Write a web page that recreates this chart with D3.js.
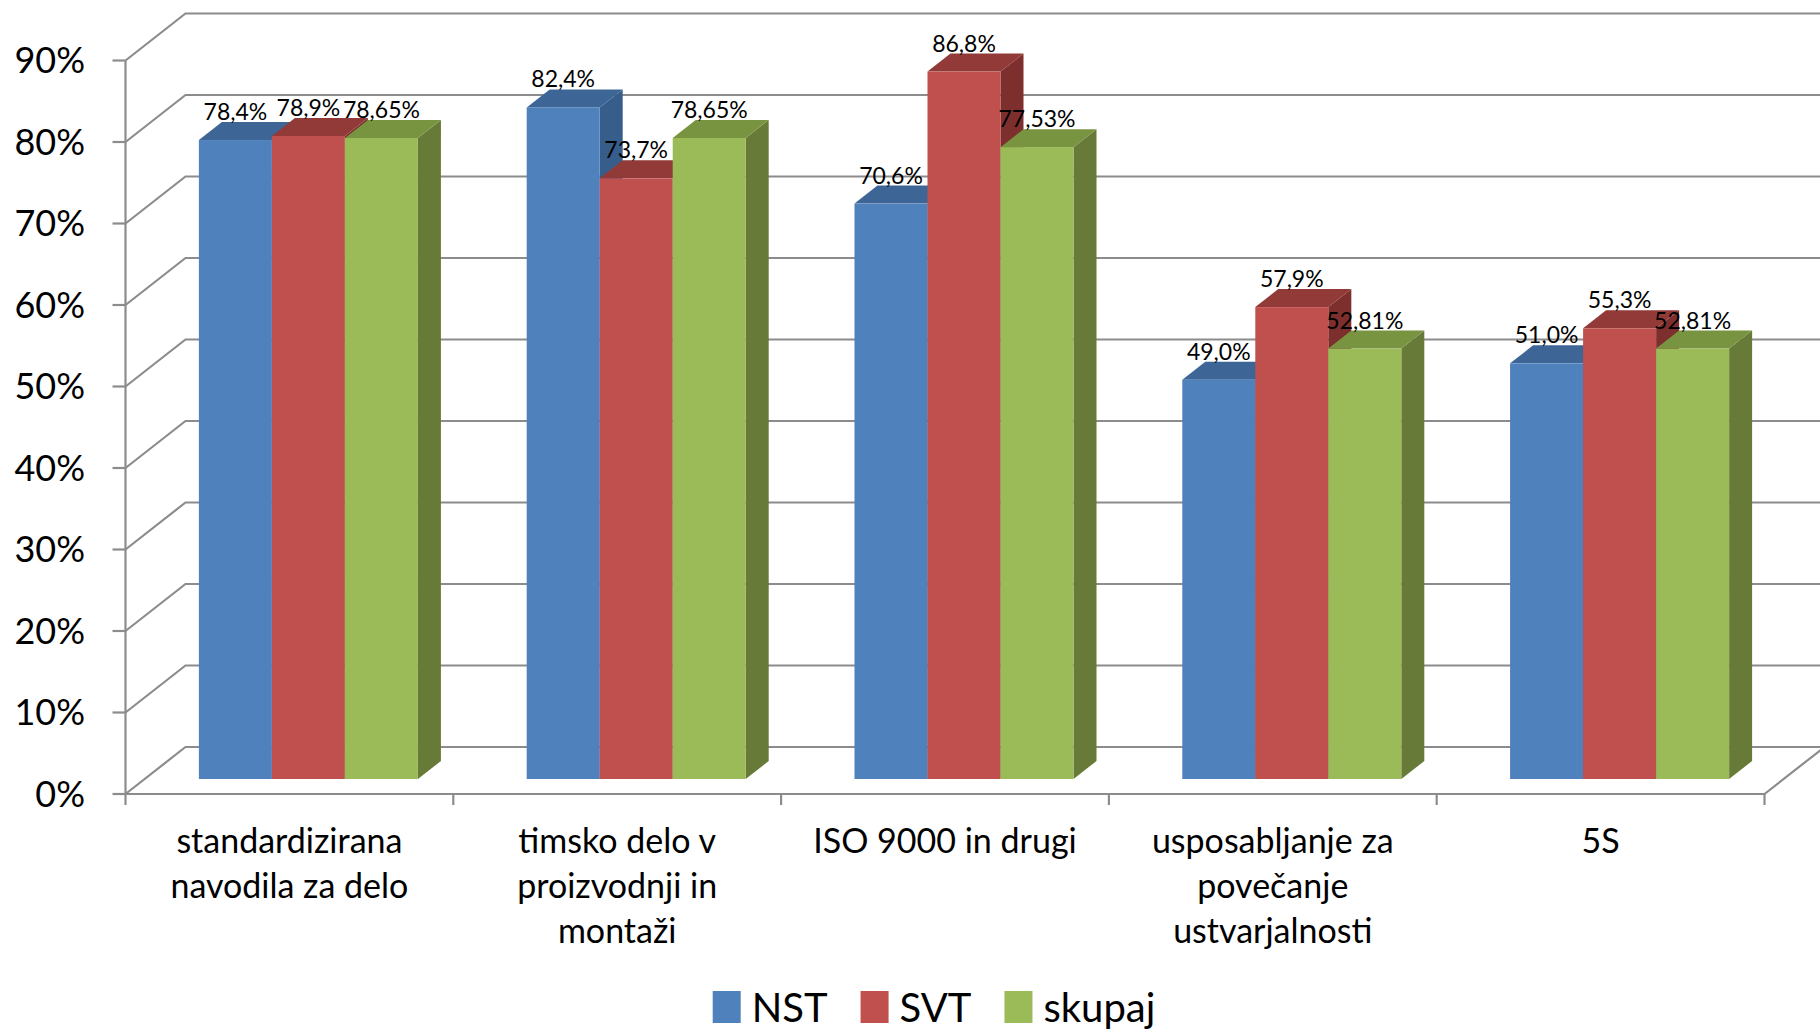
<!DOCTYPE html>
<html><head><meta charset="utf-8">
<script src="https://cdn.jsdelivr.net/npm/d3@7"></script>
<style>html,body{margin:0;padding:0;background:#fff}svg{display:block}</style>
</head><body>
<svg id="c" width="1820" height="1034"></svg>
<script>
const categories = ["standardizirana\nnavodila za delo", "timsko delo v\nproizvodnji in\nmontaži", "ISO 9000 in drugi", "usposabljanje za\npovečanje\nustvarjalnosti", "5S"];
const seriesNames = ["NST", "SVT", "skupaj"];
const nst = [78.4, 82.4, 70.6, 49.0, 51.0];
const svt = [78.9, 73.7, 86.8, 57.9, 55.3];
const skupaj = [78.65, 78.65, 77.53, 52.81, 52.81];
const seriesDecimals = [1, 1, 2];
const yTicks = [0, 10, 20, 30, 40, 50, 60, 70, 80, 90];

const seriesValues = [nst, svt, skupaj];
const faceColors = ["#4F81BD", "#C0504D", "#9BBB59"];
const topColors = ["#3D6697", "#923A38", "#789440"];
const sideColors = ["#375D8A", "#7D2F2D", "#677A38"];

const FONT = "Lato, 'Open Sans', sans-serif";
const svg = d3.select("#c");
const x0 = 125.5, x1 = 1764.5;
const DX = 60, DY = 47;        // wall depth
const BX = 19, BY = 15;        // bar front offset
const BDX = 23, BDY = 18;      // bar depth

const y = d3.scaleLinear().domain([0, 90]).range([794, 60.5]);
const xc = d3.scaleBand().domain(d3.range(categories.length)).range([x0, x1]).paddingInner(0).paddingOuter(0);
const xs = d3.scaleBand().domain(d3.range(seriesNames.length)).range([0, xc.bandwidth()]).paddingInner(0).paddingOuter(0.745);

const grid = "#8C8C8C";
const g = svg.append("g").attr("fill", "none").attr("stroke", grid).attr("stroke-width", 2.2);
yTicks.forEach(t => {
  const yy = y(t);
  g.append("path").attr("d", `M${x0},${yy}L${x0 + DX},${yy - DY}L${x1 + DX + 10},${yy - DY}`);
});
g.append("path").attr("d", `M${x0},${y(0)}L${x1},${y(0)}L${x1 + DX},${y(0) - DY}`);
g.append("path").attr("d", `M${x0},${y(0)}L${x0},${y(90)}`);
yTicks.forEach(t => g.append("path").attr("d", `M${x0 - 13},${y(t)}L${x0},${y(t)}`));
d3.range(categories.length + 1).forEach(i => {
  const xx = i < categories.length ? xc(i) : x1;
  g.append("path").attr("d", `M${xx},${y(0)}L${xx},${y(0) + 11}`);
});

svg.append("g").selectAll("text").data(yTicks).join("text")
  .attr("x", 85).attr("y", d => y(d)).attr("dy", "0.36em")
  .attr("text-anchor", "end").attr("font-family", FONT).attr("font-size", 36)
  .attr("fill", "#000").text(d => d + "%");

const bars = svg.append("g");
categories.forEach((c, ci) => {
  seriesNames.forEach((s, si) => {
    const v = seriesValues[si][ci];
    const xl = xc(ci) + xs(si) + BX, xr = xl + xs.bandwidth();
    const yt = y(v) - BY, yb = y(0) - BY;
    bars.append("path").attr("fill", sideColors[si])
      .attr("d", `M${xr},${yt}L${xr + BDX},${yt - BDY}L${xr + BDX},${yb - BDY}L${xr},${yb}Z`);
    bars.append("path").attr("fill", topColors[si])
      .attr("d", `M${xl},${yt}L${xl + BDX},${yt - BDY}L${xr + BDX},${yt - BDY}L${xr},${yt}Z`);
    bars.append("rect").attr("fill", faceColors[si])
      .attr("x", xl).attr("y", yt).attr("width", xr - xl).attr("height", yb - yt);
  });
});
const lab = svg.append("g");
categories.forEach((c, ci) => {
  seriesNames.forEach((s, si) => {
    const v = seriesValues[si][ci];
    const xl = xc(ci) + xs(si) + BX;
    const yt = y(v) - BY;
    lab.append("text").attr("x", xl + xs.bandwidth() / 2).attr("y", yt - BDY - 2)
      .attr("text-anchor", "middle").attr("font-family", FONT).attr("font-size", 23)
      .attr("fill", "#000")
      .text(d3.format("." + seriesDecimals[si] + "f")(v).replace(".", ",") + "%");
  });
});

const cl = svg.append("g");
categories.forEach((c, ci) => {
  const t = cl.append("text").attr("x", xc(ci) + xc.bandwidth() / 2).attr("y", 853)
    .attr("text-anchor", "middle").attr("font-family", FONT).attr("font-size", 34).attr("fill", "#000");
  c.split("\n").forEach((line, li) => {
    t.append("tspan").attr("x", xc(ci) + xc.bandwidth() / 2).attr("y", 853 + li * 45).text(line);
  });
});

const lg = svg.append("g");
const items = [];
seriesNames.forEach((s, i) => {
  const it = lg.append("g");
  it.append("rect").attr("x", 0).attr("y", -31).attr("width", 28).attr("height", 32).attr("fill", faceColors[i]);
  const tx = it.append("text").attr("x", 39).attr("y", 0).attr("font-family", FONT).attr("font-size", 40).attr("fill", "#000").text(s);
  const w = 39 + tx.node().getComputedTextLength();
  items.push({it, w});
});
const gap = 33;
const total = d3.sum(items, d => d.w) + gap * (items.length - 1);
let lx = 934 - total / 2;
items.forEach(d => { d.it.attr("transform", `translate(${lx},1022)`); lx += d.w + gap; });
</script>
</body></html>
